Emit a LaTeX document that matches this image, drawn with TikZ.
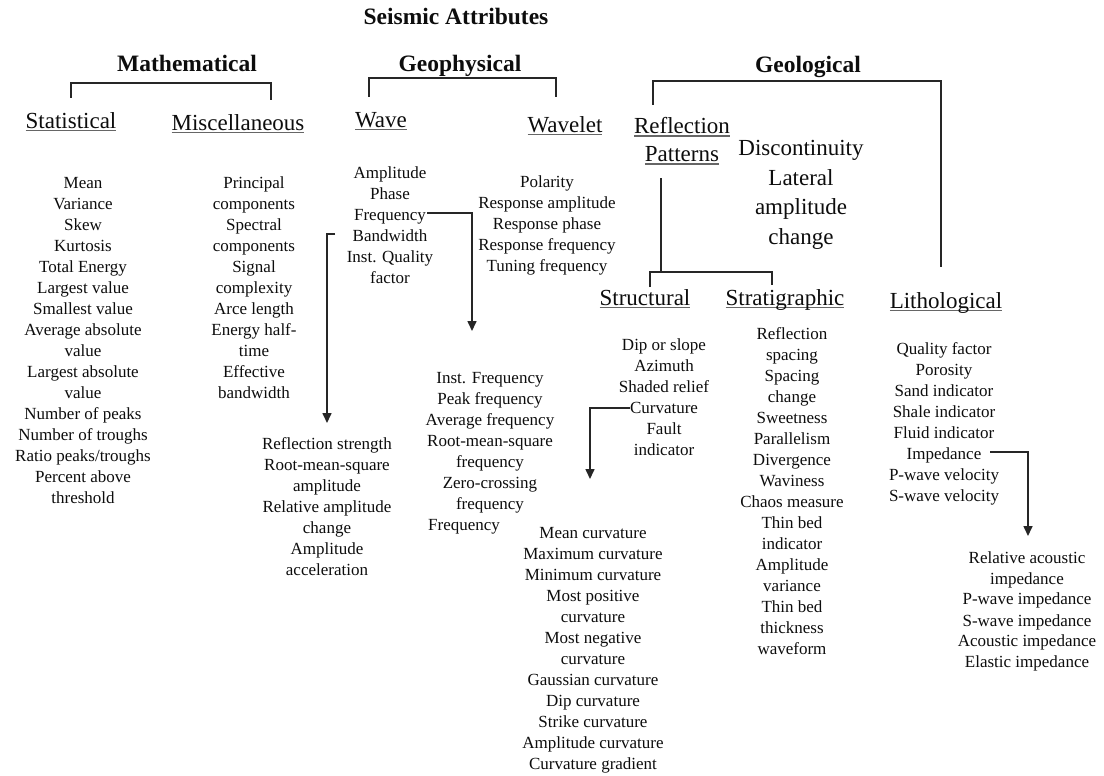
\documentclass[tikz,border=0pt]{standalone}
\usepackage{fontspec}
\setmainfont{Liberation Serif}
\usetikzlibrary{arrows.meta}
\newcommand{\myul}[1]{\setbox0\hbox{#1}\rlap{\textcolor{black!60}{\rule[-0.14em]{\wd0}{0.07em}}}\box0}
\begin{document}
\begin{tikzpicture}[x=1pt,y=-1pt,
  every node/.style={inner sep=0pt, text=black!95},
  lst/.style={font=\fontsize{17}{21}\selectfont, align=center, anchor=north},
  hd/.style={font=\fontsize{23}{29.7}\selectfont, align=center, anchor=north},
  bh/.style={font=\fontsize{23.5}{28}\selectfont\bfseries, anchor=north},
  ln/.style={line width=1.6pt, draw=black!85},
  arr/.style={ln, -{Triangle[length=10pt,width=9pt]}}]

\useasboundingbox (0,0) rectangle (1104,776);
\fill[white] (0,0) rectangle (1104,776);

% top-level headings
\node[bh] (title) at (456,8) {Seismic Attributes};
\node[bh] (math) at (187,55) {Mathematical};
\node[bh] (geoph) at (460,55) {Geophysical};
\node[bh] (geol) at (808,56) {Geological};

% second-level headings
\node[hd] (stat) at (71,112) {\myul{Statistical}};
\node[hd] (misc) at (238,114) {\myul{Miscellaneous}};
\node[hd] (wave) at (381,112) {\myul{Wave}};
\node[hd] (wavelet) at (565,116) {\myul{Wavelet}};
\node[hd, font=\fontsize{23}{28}\selectfont] (refl) at (682,117) {\myul{Reflection}\\\myul{Patterns}};
\node[hd] (disc) at (801,140) {Discontinuity\\Lateral\\amplitude\\change};
\node[hd] (struct) at (645,289) {\myul{Structural}};
\node[hd] (strat) at (785,289) {\myul{Stratigraphic}};
\node[hd] (litho) at (946,292) {\myul{Lithological}};

% lists
\node[lst] (statl) at (83,177) {Mean\\Variance\\Skew\\Kurtosis\\Total Energy\\Largest value\\Smallest value\\Average absolute\\value\\Largest absolute\\value\\Number of peaks\\Number of troughs\\Ratio peaks/troughs\\Percent above\\threshold};
\node[lst] (miscl) at (254,177) {Principal\\components\\Spectral\\components\\Signal\\complexity\\Arce length\\Energy half-\\time\\Effective\\bandwidth};
\node[lst] (wavel) at (390,167) {Amplitude\\Phase\\Frequency\\Bandwidth\\Inst. Quality\\factor};
\node[lst] (wvltl) at (547,176) {Polarity\\Response amplitude\\Response phase\\Response frequency\\Tuning frequency};
\node[lst] (rstr) at (327,437) {Reflection strength\\Root-mean-square\\amplitude\\Relative amplitude\\change\\Amplitude\\acceleration};
\node[lst] (ifreq) at (490,372) {Inst. Frequency\\Peak frequency\\Average frequency\\Root-mean-square\\frequency\\Zero-crossing\\frequency};
\node[lst, anchor=north west] (ifreqlast) at (428,519) {Frequency};
\node[lst] (structl) at (664,339) {Dip or slope\\Azimuth\\Shaded relief\\Curvature\\Fault\\indicator};
\node[lst] (curvl) at (593,527) {Mean curvature\\Maximum curvature\\Minimum curvature\\Most positive\\curvature\\Most negative\\curvature\\Gaussian curvature\\Dip curvature\\Strike curvature\\Amplitude curvature\\Curvature gradient};
\node[lst] (stratl) at (792,327) {Reflection\\spacing\\Spacing\\change\\Sweetness\\Parallelism\\Divergence\\Waviness\\Chaos measure\\Thin bed\\indicator\\Amplitude\\variance\\Thin bed\\thickness\\waveform};
\node[lst] (lithol) at (944,342) {Quality factor\\Porosity\\Sand indicator\\Shale indicator\\Fluid indicator\\Impedance\\P-wave velocity\\S-wave velocity};
\node[lst] (impl) at (1027,551) {Relative acoustic\\impedance\\P-wave impedance\\S-wave impedance\\Acoustic impedance\\Elastic impedance};

% bracket connectors
\coordinate (mathA) at (71,98);   \coordinate (mathbar) at (187,83);  \coordinate (mathB) at (271,100);
\coordinate (geoA) at (369,97);   \coordinate (geobar) at (460,78);   \coordinate (geoB) at (556,97);
\coordinate (geolA) at (653,105); \coordinate (geolbar) at (808,81);  \coordinate (geolB) at (941,267);
\draw[ln] (mathA) |- (mathbar) -| (mathB);
\draw[ln] (geoA) |- (geobar) -| (geoB);
\draw[ln] (geolA) |- (geolbar) -| (geolB);

\coordinate (ptop) at (661,178); \coordinate (pbar) at (661,272);
\coordinate (pL) at (650,287);   \coordinate (pR) at (772,285);
\draw[ln] (ptop) -- (pbar);
\draw[ln] (pL) |- (pbar) -| (pR);

% arrows
\coordinate (a1s) at (427,213); \coordinate (a1e) at (472,331);
\coordinate (a2s) at (335,234); \coordinate (a2e) at (327,423);
\coordinate (a3s) at (630,408); \coordinate (a3e) at (590,479);
\coordinate (a4s) at (990,452); \coordinate (a4e) at (1028,536);
\draw[arr] (a1s) -| (a1e);
\draw[arr] (a2s) -| (a2e);
\draw[arr] (a3s) -| (a3e);
\draw[arr] (a4s) -| (a4e);
\end{tikzpicture}
\end{document}
